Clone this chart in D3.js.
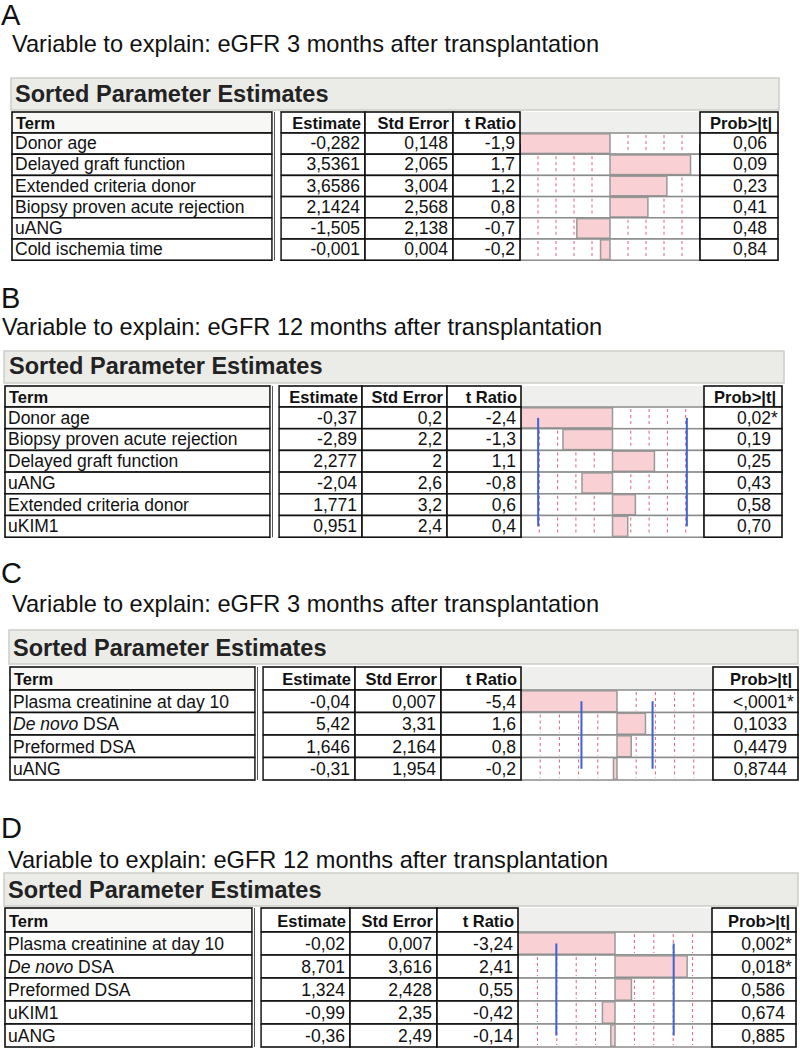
<!DOCTYPE html>
<html>
<head>
<meta charset="utf-8">
<script src="https://cdn.jsdelivr.net/npm/d3@7"></script>
<style>
body { margin: 0; background: #fff; }
svg { display: block; }
text { font-family: "Liberation Sans", Arial, Helvetica, sans-serif; fill: #111; }
</style>
</head>
<body>
<svg id="chart" width="800" height="1049"></svg>
<script>
// ---- panel A : eGFR 3 months ----
var termsA = ["Donor age", "Delayed graft function", "Extended criteria donor", "Biopsy proven acute rejection", "uANG", "Cold ischemia time"];
var estA = ["-0,282", "3,5361", "3,6586", "2,1424", "-1,505", "-0,001"];
var seA = ["0,148", "2,065", "3,004", "2,568", "2,138", "0,004"];
var tA = [-1.9, 1.7, 1.2, 0.8, -0.7, -0.2];
var probA = ["0,06", "0,09", "0,23", "0,41", "0,48", "0,84"];
var critA = 2.0;

// ---- panel B : eGFR 12 months ----
var termsB = ["Donor age", "Biopsy proven acute rejection", "Delayed graft function", "uANG", "Extended criteria donor", "uKIM1"];
var estB = ["-0,37", "-2,89", "2,277", "-2,04", "1,771", "0,951"];
var seB = ["0,2", "2,2", "2", "2,6", "3,2", "2,4"];
var tB = [-2.4, -1.3, 1.1, -0.8, 0.6, 0.4];
var probB = ["0,02*", "0,19", "0,25", "0,43", "0,58", "0,70"];
var critB = 1.95;

// ---- panel C : eGFR 3 months ----
var termsC = ["Plasma creatinine at day 10", "De novo DSA", "Preformed DSA", "uANG"];
var estC = ["-0,04", "5,42", "1,646", "-0,31"];
var seC = ["0,007", "3,31", "2,164", "1,954"];
var tC = [-5.4, 1.6, 0.8, -0.2];
var probC = ["<,0001*", "0,1033", "0,4479", "0,8744"];
var critC = 2.0;

// ---- panel D : eGFR 12 months ----
var termsD = ["Plasma creatinine at day 10", "De novo DSA", "Preformed DSA", "uKIM1", "uANG"];
var estD = ["-0,02", "8,701", "1,324", "-0,99", "-0,36"];
var seD = ["0,007", "3,616", "2,428", "2,35", "2,49"];
var tD = [-3.24, 2.41, 0.55, -0.42, -0.14];
var probD = ["0,002*", "0,018*", "0,586", "0,674", "0,885"];
var critD = 1.96;

var headers = ["Term", "Estimate", "Std Error", "t Ratio", "Prob>|t|"];
var tickFractions = [-0.8, -0.6, -0.4, -0.2, 0.2, 0.4, 0.6, 0.8];

var svg = d3.select("#chart");
svg.append("rect").attr("width", 800).attr("height", 1049).attr("fill", "#fff");

// layout of each panel (cols: termL, termR, estL, seL, tL, barL, probL, probR)
var panels = [
  { name: "A", title: "Variable to explain: eGFR 3 months after transplantation",
    terms: termsA, est: estA, se: seA, t: tA, prob: probA, crit: critA, blue: "#1d2a80",
    letter: [1, 25], titleAt: [12, 52], box: [11, 779, 78, 110], boxText: [15, 102],
    cols: [12, 272, 281, 365, 453, 520, 700, 778], head: [112, 133], rowH: 21.2 },
  { name: "B", title: "Variable to explain: eGFR 12 months after transplantation",
    terms: termsB, est: estB, se: seB, t: tB, prob: probB, crit: critB, blue: "#3f62d2",
    letter: [1, 308], titleAt: [2, 335], box: [4, 784, 351, 383], boxText: [9, 374],
    cols: [5, 270, 279, 362, 447, 521, 704, 782], head: [386, 407], rowH: 21.7 },
  { name: "C", title: "Variable to explain: eGFR 3 months after transplantation",
    terms: termsC, est: estC, se: seC, t: tC, prob: probC, crit: critC, blue: "#3f62d2",
    letter: [1, 583], titleAt: [12, 612], box: [9, 798, 630, 664], boxText: [13, 656],
    cols: [10, 255, 263, 355, 441, 521, 713, 798], head: [667, 690], rowH: 22.5 },
  { name: "D", title: "Variable to explain: eGFR 12 months after transplantation",
    terms: termsD, est: estD, se: seD, t: tD, prob: probD, crit: critD, blue: "#3f62d2",
    letter: [1, 838], titleAt: [8, 868], box: [4, 798, 873, 906], boxText: [8, 898],
    cols: [5, 252, 261, 350, 437, 518, 712, 796], head: [908, 932], rowH: 23 }
];

var cellBox = function(g, x0, x1, y0, y1, fill)
{
    g.append("rect")
        .attr("x", x0).attr("y", y0)
        .attr("width", x1 - x0).attr("height", y1 - y0)
        .attr("fill", fill)
        .attr("stroke", "#111")
        .attr("stroke-width", 1.6);
}

var drawPanel = function(p)
{
    var g = svg.append("g");
    var c = p.cols;
    var n = p.terms.length;
    var top = p.head[1];

    var y = d3.scaleBand()
        .domain(d3.range(n))
        .range([top, top + n * p.rowH]);

    var tMax = d3.max(p.t, function(d) { return Math.abs(d); });
    var x = d3.scaleLinear()
        .domain([-tMax, tMax])
        .range([c[5], c[6]])
        .clamp(true);

    // letter + title
    g.append("text").attr("x", p.letter[0]).attr("y", p.letter[1])
        .style("font-size", "29px").text(p.name);
    g.append("text").attr("x", p.titleAt[0]).attr("y", p.titleAt[1])
        .style("font-size", "23.6px").text(p.title);

    // grey header box
    g.append("rect")
        .attr("x", p.box[0]).attr("y", p.box[2])
        .attr("width", p.box[1] - p.box[0]).attr("height", p.box[3] - p.box[2])
        .attr("fill", "#ebebe8").attr("stroke", "#cdcdc9").attr("stroke-width", 1.5);
    g.append("text").attr("x", p.boxText[0]).attr("y", p.boxText[1])
        .style("font-size", "23.5px").style("font-weight", "bold").style("fill", "#222")
        .text("Sorted Parameter Estimates");

    // bar column background
    g.append("rect")
        .attr("x", c[5]).attr("y", p.head[0])
        .attr("width", c[6] - c[5]).attr("height", p.head[1] - p.head[0])
        .attr("fill", "#efefed");

    var rows = g.selectAll("g.row").data(p.terms).enter().append("g").attr("class", "row");

    rows.append("rect")
        .attr("x", c[5]).attr("y", function(d, i) { return y(i); })
        .attr("width", c[6] - c[5]).attr("height", y.bandwidth())
        .attr("fill", "#fff").attr("stroke", "#8c8c8c").attr("stroke-width", 1.5);

    // red dotted guides in every row
    tickFractions.forEach(function(f)
    {
        rows.append("line")
            .attr("x1", x(f * tMax)).attr("x2", x(f * tMax))
            .attr("y1", function(d, i) { return y(i) + 2; })
            .attr("y2", function(d, i) { return y(i) + y.bandwidth() - 2; })
            .attr("stroke", "#e0607c").attr("stroke-width", 1)
            .attr("stroke-dasharray", "3,3");
    });

    // t ratio bars
    rows.append("rect")
        .attr("x", function(d, i) { return x(Math.min(0, p.t[i])); })
        .attr("y", function(d, i) { return y(i) + 0.8; })
        .attr("width", function(d, i) { return Math.abs(x(p.t[i]) - x(0)); })
        .attr("height", y.bandwidth() - 1.6)
        .attr("fill", "#f9d0d3").attr("stroke", "#999").attr("stroke-width", 1.5);

    // critical t lines
    [-p.crit, p.crit].forEach(function(v)
    {
        g.append("line")
            .attr("x1", x(v)).attr("x2", x(v))
            .attr("y1", y(0) + y.bandwidth() / 2)
            .attr("y2", y(n - 1) + y.bandwidth() / 2)
            .attr("stroke", p.blue).attr("stroke-width", 2);
    });

    // header cells
    var hy0 = p.head[0], hy1 = p.head[1];
    var hBase = hy0 + (hy1 - hy0) * 0.8;
    cellBox(g, c[0], c[1], hy0, hy1, "#f7f7f5");
    cellBox(g, c[2], c[3], hy0, hy1, "#fff");
    cellBox(g, c[3], c[4], hy0, hy1, "#fff");
    cellBox(g, c[4], c[5], hy0, hy1, "#fff");
    cellBox(g, c[6], c[7], hy0, hy1, "#fff");

    var hx = [c[0] + 4, c[3] - 4, c[4] - 4, c[5] - 4, c[7] - 6];
    headers.forEach(function(h, k)
    {
        g.append("text").attr("x", hx[k]).attr("y", hBase)
            .attr("text-anchor", k == 0 ? "start" : "end")
            .style("font-size", "16.5px").style("font-weight", "bold")
            .text(h);
    });

    // body cells
    p.terms.forEach(function(term, i)
    {
        var y0 = y(i), y1 = y(i) + y.bandwidth();
        var base = y1 - 5;
        cellBox(g, c[0], c[1], y0, y1, "#fff");
        cellBox(g, c[2], c[3], y0, y1, "#fff");
        cellBox(g, c[3], c[4], y0, y1, "#fff");
        cellBox(g, c[4], c[5], y0, y1, "#fff");
        cellBox(g, c[6], c[7], y0, y1, "#fff");

        var tt = g.append("text").attr("x", c[0] + 3).attr("y", base).style("font-size", "17.5px");
        if (term.indexOf("De novo") == 0)
        {
            tt.append("tspan").style("font-style", "italic").text("De novo");
            tt.append("tspan").text(term.slice(7));
        }
        else
        {
            tt.text(term);
        }

        g.append("text").attr("x", c[3] - 5).attr("y", base).attr("text-anchor", "end")
            .style("font-size", "17.5px").text(p.est[i]);
        g.append("text").attr("x", c[4] - 5).attr("y", base).attr("text-anchor", "end")
            .style("font-size", "17.5px").text(p.se[i]);
        g.append("text").attr("x", c[5] - 5).attr("y", base).attr("text-anchor", "end")
            .style("font-size", "17.5px").text(String(p.t[i]).replace(".", ","));

        var pr = p.prob[i];
        var star = pr.indexOf("*") >= 0;
        g.append("text").attr("x", c[7] - 11).attr("y", base).attr("text-anchor", "end")
            .style("font-size", "17.5px").text(pr.replace("*", ""));
        if (star)
        {
            g.append("text").attr("x", c[7] - 11).attr("y", base)
                .style("font-size", "17.5px").text("*");
        }
    });

    // gap column between Term and Estimate
    g.append("rect")
        .attr("x", c[1] + 0.8).attr("y", hy0)
        .attr("width", c[2] - c[1] - 1.6).attr("height", y(n - 1) + y.bandwidth() - hy0)
        .attr("fill", "#fff");
    g.append("line")
        .attr("x1", c[1] + 2.5).attr("x2", c[1] + 2.5)
        .attr("y1", hy0).attr("y2", y(n - 1) + y.bandwidth())
        .attr("stroke", "#555").attr("stroke-width", 1);
}

panels.forEach(drawPanel);
</script>
</body>
</html>
